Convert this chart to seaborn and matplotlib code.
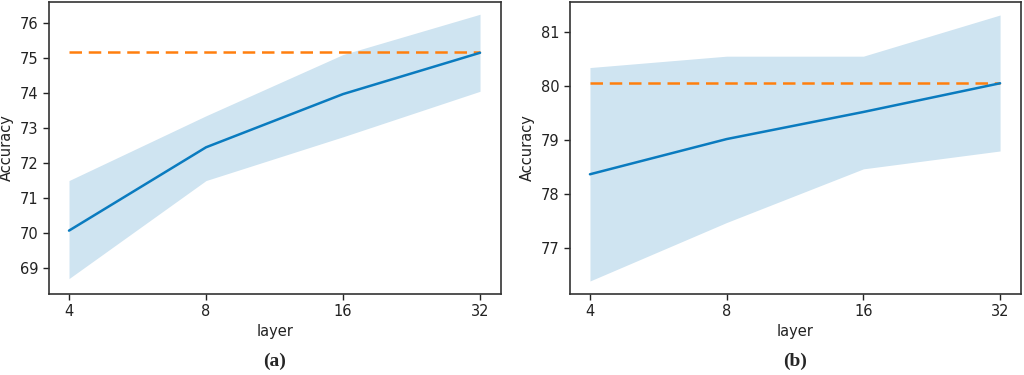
import matplotlib
matplotlib.use("Agg")
import matplotlib.pyplot as plt
import seaborn as sns
import pandas as pd

layers = [4, 8, 16, 32]

acc_a = [70.07, 72.45, 73.97, 75.15]
upper_a = [71.50, 73.35, 75.10, 76.25]
lower_a = [68.70, 71.50, 72.75, 74.05]
ref_a = 75.17

acc_b = [78.37, 79.02, 79.52, 80.05]
upper_b = [80.34, 80.55, 80.55, 81.31]
lower_b = [76.40, 77.48, 78.47, 78.80]
ref_b = 80.06

sns.set_style("ticks")
plt.rcParams['font.family'] = ['DejaVu Sans']

fig = plt.figure(figsize=(10.24, 3.75), dpi=100)
ax_a = fig.add_axes([49/1024, 1-294/375, 452/1024, 292/375])
ax_b = fig.add_axes([570/1024, 1-294/375, 451/1024, 292/375])

line_c = '#0a7bbf'
fill_c = '#cfe4f1'
orange = '#ff7f0e'

panels = [
    (ax_a, acc_a, upper_a, lower_a, ref_a, (68.26, 76.6), [69, 70, 71, 72, 73, 74, 75, 76], '(a)'),
    (ax_b, acc_b, upper_b, lower_b, ref_b, (76.16, 81.55), [77, 78, 79, 80, 81], '(b)'),
]

for ax, acc, up, lo, ref, ylim, yt, lab in panels:
    df = pd.DataFrame({'layer': layers, 'Accuracy': acc})
    ax.set_xscale('log', base=2)
    ax.fill_between(layers, lo, up, color=fill_c, linewidth=0, zorder=1)
    sns.lineplot(data=df, x='layer', y='Accuracy', ax=ax, color=line_c, linewidth=1.8, zorder=3)
    ref_line = sns.lineplot(x=layers, y=[ref] * len(layers), ax=ax, color=orange,
                            linewidth=1.8, zorder=2)
    ax.lines[-1].set_dashes((5, 2.7))
    ax.set_xticks(layers)
    ax.set_xticklabels([str(l) for l in layers])
    ax.minorticks_off()
    ax.set_xlim(4 / 2 ** 0.146, 32 * 2 ** 0.153)
    ax.set_ylim(*ylim)
    ax.set_yticks(yt)
    ax.tick_params(labelsize=10.5, length=4, width=1, colors='#222222')
    ax.set_xlabel('layer', fontsize=10.5, color='#222222', labelpad=3)
    ax.set_ylabel('Accuracy', fontsize=10.5, color='#222222')
    for s in ax.spines.values():
        s.set_visible(True)
        s.set_linewidth(1.2)
        s.set_color('#333333')
    pos = ax.get_position()
    fig.text(pos.x0 + pos.width / 2, 1 - 361/375, lab, ha='center', va='center',
             fontsize=14, fontweight='bold', family=['Liberation Serif'])

fig.savefig('out.png', dpi=100)
